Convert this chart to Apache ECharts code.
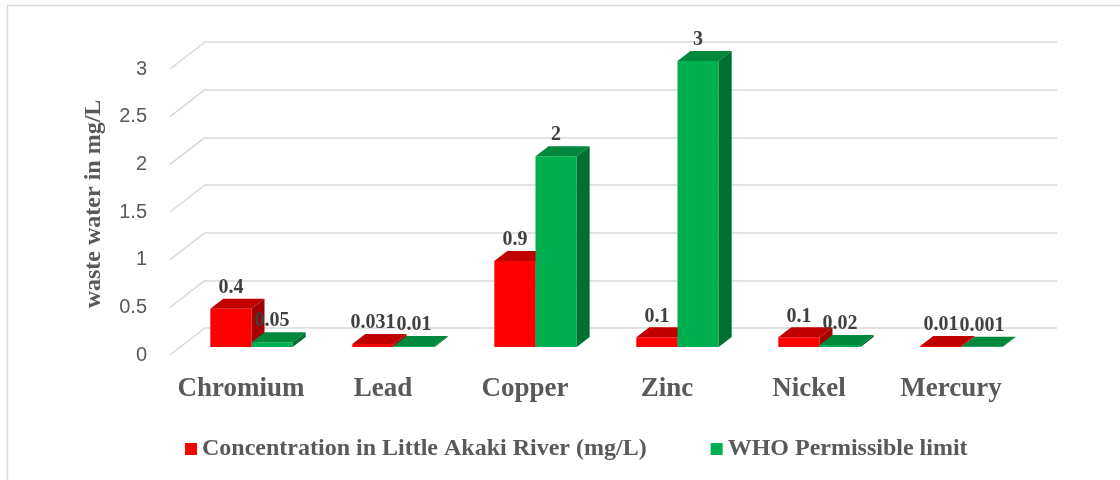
<!DOCTYPE html>
<html>
<head>
<meta charset="utf-8">
<script src="https://cdn.jsdelivr.net/npm/echarts@6/dist/echarts.min.js"></script>
<style>
  html, body { margin: 0; padding: 0; background: #fff; }
  #chart { width: 1120px; height: 480px; }
</style>
</head>
<body>
<div id="chart"></div>
<script>
const metals = ['Chromium', 'Lead', 'Copper', 'Zinc', 'Nickel', 'Mercury']
const riverValues = [0.4, 0.031, 0.9, 0.1, 0.1, 0.01]
const whoValues = [0.05, 0.01, 2, 3, 0.02, 0.001]
const yTicks = [0, 0.5, 1, 1.5, 2, 2.5, 3]

const seriesNames = ['Concentration in Little Akaki River (mg/L)', 'WHO Permissible limit']
const colors = {
  red: { front: '#ff0000', top: '#c00000', side: '#a30000' },
  green: { front: '#00b050', top: '#00883d', side: '#007032' }
}
const grey = '#595959'
const serif = "'Liberation Serif', 'Times New Roman', serif"

// perspective: back wall -> front floor edge
const DEPTH_X = -35
const DEPTH_Y = 27
// bars sit at 70% of the depth, with their own small depth
const BAR_POS = 0.7
const BAR_DX = 13
const BAR_DY = -10

const makeBarRender = (side, col) => (params, api) => {
  const i = api.value(0)
  const v = api.value(1)
  const base = api.coord([i, 0])
  const topY = api.coord([i, v])[1] + DEPTH_Y * BAR_POS
  const botY = base[1] + DEPTH_Y * BAR_POS
  const bw = api.size([1, 0])[0] * 0.29
  const x0 = base[0] + DEPTH_X * BAR_POS + (side === 0 ? -bw : 0)
  const x1 = x0 + bw
  return {
    type: 'group',
    children: [
      {
        type: 'rect',
        shape: { x: x0, y: topY, width: bw, height: botY - topY },
        style: { fill: col.front }
      },
      {
        type: 'polygon',
        shape: { points: [[x0, topY], [x1, topY], [x1 + BAR_DX, topY + BAR_DY], [x0 + BAR_DX, topY + BAR_DY]] },
        style: { fill: col.top }
      },
      {
        type: 'polygon',
        shape: { points: [[x1, topY], [x1 + BAR_DX, topY + BAR_DY], [x1 + BAR_DX, botY + BAR_DY], [x1, botY]] },
        style: { fill: col.side }
      },
      {
        type: 'text',
        style: {
          x: x0 + bw / 2,
          y: topY + BAR_DY - 1,
          text: String(v),
          align: 'center',
          verticalAlign: 'bottom',
          fill: '#404040',
          font: 'bold 20px ' + serif
        }
      }
    ]
  }
}

const chart = echarts.init(document.getElementById('chart'))
chart.setOption({
  animation: false,
  backgroundColor: '#fff',
  graphic: [{
    type: 'rect',
    shape: { x: 7.5, y: 5.5, width: 1300, height: 600 },
    style: { fill: 'none', stroke: '#d9d9d9', lineWidth: 1.5 },
    z: -1
  }],
  grid: [
    { left: 205, right: 63, top: 42, bottom: 152 },
    { left: 170, right: 98, top: 69, bottom: 125 }
  ],
  xAxis: [
    {
      gridIndex: 0, type: 'category', data: metals,
      axisLine: { show: false }, axisTick: { show: false }, axisLabel: { show: false }
    },
    {
      gridIndex: 1, type: 'category', data: metals,
      axisLine: { show: false }, axisTick: { show: false },
      axisLabel: { interval: 0, color: grey, fontFamily: serif, fontWeight: 'bold', fontSize: 27, margin: 21 }
    }
  ],
  yAxis: [
    {
      gridIndex: 0, type: 'value', min: 0, max: 3, interval: 0.5,
      axisLabel: { show: false },
      splitLine: { lineStyle: { color: '#d9d9d9', width: 1.5 } }
    },
    {
      gridIndex: 1, type: 'value', min: 0, max: 3, interval: 0.5,
      splitLine: { show: false },
      axisLabel: { color: grey, fontFamily: "'Liberation Sans', Arial, sans-serif", fontSize: 20, margin: 23 },
      name: 'waste water in mg/L',
      nameLocation: 'middle',
      nameGap: 64,
      nameTextStyle: { color: grey, fontFamily: serif, fontWeight: 'bold', fontSize: 24, padding: [0, 0, 0, 16] }
    }
  ],
  legend: {
    data: seriesNames,
    left: 180,
    top: 432,
    icon: 'rect',
    itemWidth: 12,
    itemHeight: 12,
    itemGap: 64,
    textStyle: { color: grey, fontFamily: serif, fontWeight: 'bold', fontSize: 24 }
  },
  series: [
    {
      type: 'custom',
      name: 'floor-lines',
      xAxisIndex: 0,
      yAxisIndex: 0,
      z: 1,
      silent: true,
      data: yTicks.map((t) => [0, t]),
      renderItem: (params, api) => {
        const y = api.coord([0, api.value(1)])[1]
        const x = params.coordSys.x
        return {
          type: 'line',
          shape: { x1: x, y1: y, x2: x + DEPTH_X, y2: y + DEPTH_Y },
          style: { stroke: '#d9d9d9', lineWidth: 1.5 }
        }
      }
    },
    {
      type: 'custom',
      name: seriesNames[0],
      xAxisIndex: 0,
      yAxisIndex: 0,
      z: 2,
      itemStyle: { color: colors.red.front },
      data: riverValues.map((v, i) => [i, v]),
      renderItem: makeBarRender(0, colors.red)
    },
    {
      type: 'custom',
      name: seriesNames[1],
      xAxisIndex: 0,
      yAxisIndex: 0,
      z: 3,
      itemStyle: { color: colors.green.front },
      data: whoValues.map((v, i) => [i, v]),
      renderItem: makeBarRender(1, colors.green)
    }
  ]
})
</script>
</body>
</html>
